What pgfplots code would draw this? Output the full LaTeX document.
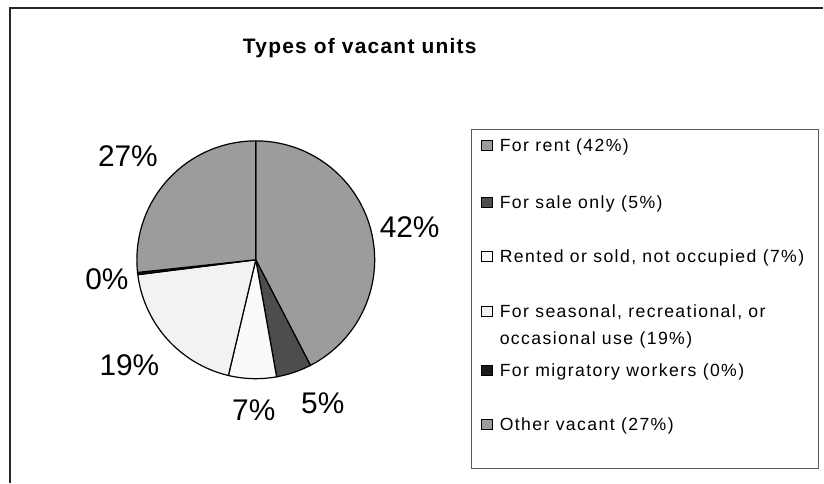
\documentclass[border=0pt]{standalone}
\usepackage{pgfplots}
\pgfplotsset{compat=1.18}
\usepackage{pgfplotstable}
\usepackage{fontspec}
\setmainfont{Liberation Sans}
\newfontfamily\legfont[LetterSpace=8]{Liberation Sans}
\newfontfamily\titlefont[LetterSpace=6]{Liberation Sans}

\definecolor{cRent}{HTML}{9C9C9C}
\definecolor{cSale}{HTML}{4D4D4D}
\definecolor{cRented}{HTML}{FAFAFA}
\definecolor{cSeason}{HTML}{F2F2F2}
\definecolor{cMigr}{HTML}{1A1A1A}
\definecolor{cOther}{HTML}{9C9C9C}

% share of vacant units, in percent, clockwise from 12 o'clock
\pgfplotstableread[col sep=comma]{
label,value,color
For rent,42.4,cRent
For sale only,4.8,cSale
Rented or sold not occupied,6.5,cRented
Seasonal recreational occasional,19.3,cSeason
Migratory workers,0.3,cMigr
Other vacant,26.7,cOther
}\piedata

\begin{document}
\begin{tikzpicture}
\begin{axis}[
  width=824bp, height=483bp, scale only axis,
  xmin=0, xmax=824, ymin=0, ymax=483,
  hide axis, clip=false,
]
% fix the picture's extent to the full chart area
\path (axis cs:0,0) rectangle (axis cs:824,483);
% chart frame (left and top edges visible)
\draw[line width=1.4bp, black!85] (axis cs:10,0) -- (axis cs:10,475) -- (axis cs:824,475);

% pie wedges
\pgfplotstablegetrowsof{\piedata}
\pgfmathtruncatemacro\nrows{\pgfplotsretval-1}
\def\cum{0}
\pgfplotsforeachungrouped \i in {0,...,\nrows}{
  \pgfplotstablegetelem{\i}{value}\of\piedata
  \let\v\pgfplotsretval
  \pgfplotstablegetelem{\i}{color}\of\piedata
  \let\c\pgfplotsretval
  \pgfmathsetmacro\a{90-3.6*\cum}
  \pgfmathsetmacro\b{90-3.6*(\cum+\v)}
  \edef\temp{\noexpand\addplot[draw=black, line width=1.2bp, fill=\c, line join=round,
     domain=\b:\a, samples=90, variable=\noexpand\t]
     ({256+119*cos(\noexpand\t)},{223+119*sin(\noexpand\t)})
     -- (axis cs:256,223) -- cycle;}
  \temp
  \pgfmathsetmacro\cum{\cum+\v}
}

% title
\node[anchor=base west, inner sep=0pt, font=\titlefont\fontsize{21}{25}\selectfont\bfseries]
  at (axis cs:243,429) {Types of vacant units};

% data labels
\begin{scope}[every node/.style={anchor=base, inner sep=0pt, font=\fontsize{30}{34}\selectfont}]
\node at (axis cs:410,245.7) {42\%};
\node at (axis cs:323,69) {5\%};
\node at (axis cs:254,62.3) {7\%};
\node at (axis cs:129.5,107) {19\%};
\node at (axis cs:107,193.7) {0\%};
\node at (axis cs:128,316.5) {27\%};
\end{scope}

% legend
\draw[line width=1bp, black!65] (axis cs:472,14) rectangle (axis cs:819,353);
\begin{scope}[every node/.style={anchor=base west, inner sep=0pt, font=\legfont\fontsize{17.7}{21}\selectfont}]
\node at (axis cs:500,331) {For rent (42\%)};
\node at (axis cs:500,274) {For sale only (5\%)};
\node at (axis cs:500,220) {Rented or sold, not occupied (7\%)};
\node at (axis cs:500,165) {For seasonal, recreational, or};
\node at (axis cs:500,138.7) {occasional use (19\%)};
\node at (axis cs:500,106) {For migratory workers (0\%)};
\node at (axis cs:500,51.7) {Other vacant (27\%)};
\end{scope}
\begin{scope}[line width=0.8bp]
\draw[fill=cRent]   (axis cs:482,332.3) rectangle (axis cs:493,342.3);
\draw[fill=cSale]   (axis cs:482,275.3) rectangle (axis cs:493,285.3);
\draw[fill=cRented] (axis cs:482,221.3) rectangle (axis cs:493,231.3);
\draw[fill=cSeason] (axis cs:482,166.3) rectangle (axis cs:493,176.3);
\draw[fill=cMigr]   (axis cs:482,107.3) rectangle (axis cs:493,117.3);
\draw[fill=cOther]  (axis cs:482,53)    rectangle (axis cs:493,63);
\end{scope}
\end{axis}
\end{tikzpicture}
\end{document}
